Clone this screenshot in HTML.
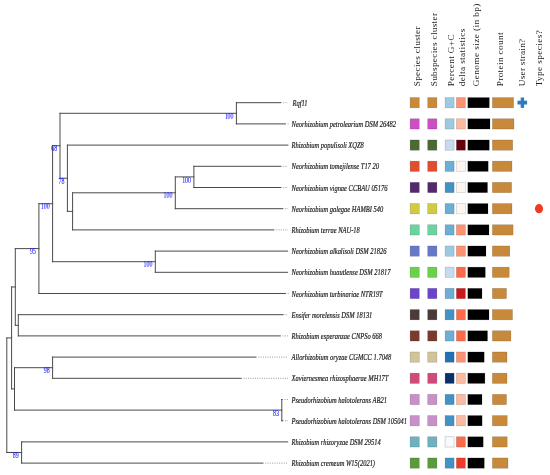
<!DOCTYPE html>
<html><head><meta charset="utf-8"><style>
html,body{margin:0;padding:0;background:#fff;}
svg{display:block;will-change:transform;}
</style></head><body>
<svg width="550" height="475" viewBox="0 0 550 475">
<rect width="550" height="475" fill="#fff"/>
<g stroke="#4a4a4a" stroke-width="1" stroke-linecap="square" fill="none"><line x1="236.4" y1="102.7" x2="280.9" y2="102.7"/><line x1="236.4" y1="123.9" x2="285.4" y2="123.9"/><line x1="236.4" y1="102.7" x2="236.4" y2="123.9"/><line x1="60" y1="113.3" x2="236.4" y2="113.3"/><line x1="67.4" y1="145.1" x2="287.9" y2="145.1"/><line x1="193.9" y1="166.3" x2="280.9" y2="166.3"/><line x1="193.9" y1="187.5" x2="280.9" y2="187.5"/><line x1="193.9" y1="166.3" x2="193.9" y2="187.5"/><line x1="175.3" y1="176.9" x2="193.9" y2="176.9"/><line x1="175.3" y1="208.7" x2="282.9" y2="208.7"/><line x1="175.3" y1="176.9" x2="175.3" y2="208.7"/><line x1="72.6" y1="192.8" x2="175.3" y2="192.8"/><line x1="72.6" y1="229.9" x2="273.9" y2="229.9"/><line x1="72.6" y1="192.8" x2="72.6" y2="229.9"/><line x1="67.4" y1="211.35" x2="72.6" y2="211.35"/><line x1="67.4" y1="145.1" x2="67.4" y2="211.35"/><line x1="60" y1="178.22" x2="67.4" y2="178.22"/><line x1="60" y1="113.3" x2="60" y2="178.22"/><line x1="52.6" y1="145.76" x2="60" y2="145.76"/><line x1="155.3" y1="251.1" x2="287.6" y2="251.1"/><line x1="155.3" y1="272.3" x2="287.6" y2="272.3"/><line x1="155.3" y1="251.1" x2="155.3" y2="272.3"/><line x1="52.6" y1="261.7" x2="155.3" y2="261.7"/><line x1="52.6" y1="145.76" x2="52.6" y2="261.7"/><line x1="38.9" y1="203.73" x2="52.6" y2="203.73"/><line x1="38.9" y1="293.5" x2="285.4" y2="293.5"/><line x1="38.9" y1="203.73" x2="38.9" y2="293.5"/><line x1="15.3" y1="248.62" x2="38.9" y2="248.62"/><line x1="18.3" y1="314.7" x2="283.2" y2="314.7"/><line x1="18.3" y1="335.9" x2="280.3" y2="335.9"/><line x1="18.3" y1="314.7" x2="18.3" y2="335.9"/><line x1="15.3" y1="325.3" x2="18.3" y2="325.3"/><line x1="15.3" y1="248.62" x2="15.3" y2="325.3"/><line x1="11.6" y1="286.96" x2="15.3" y2="286.96"/><line x1="52.6" y1="357.1" x2="256" y2="357.1"/><line x1="52.6" y1="378.3" x2="241.2" y2="378.3"/><line x1="52.6" y1="357.1" x2="52.6" y2="378.3"/><line x1="14.5" y1="367.7" x2="52.6" y2="367.7"/><line x1="281.8" y1="399.5" x2="282.3" y2="399.5"/><line x1="281.8" y1="420.7" x2="282.8" y2="420.7"/><line x1="281.8" y1="399.5" x2="281.8" y2="420.7"/><line x1="14.5" y1="410.1" x2="281.8" y2="410.1"/><line x1="14.5" y1="367.7" x2="14.5" y2="410.1"/><line x1="11.6" y1="388.9" x2="14.5" y2="388.9"/><line x1="11.6" y1="286.96" x2="11.6" y2="388.9"/><line x1="6.8" y1="337.93" x2="11.6" y2="337.93"/><line x1="21.6" y1="441.9" x2="287.7" y2="441.9"/><line x1="21.6" y1="463.1" x2="263" y2="463.1"/><line x1="21.6" y1="441.9" x2="21.6" y2="463.1"/><line x1="6.8" y1="452.5" x2="21.6" y2="452.5"/><line x1="6.8" y1="337.93" x2="6.8" y2="452.5"/></g>
<g stroke="#999" stroke-width="1" stroke-dasharray="1 1.3"><line x1="283.2" y1="102.7" x2="288" y2="102.7"/><line x1="287.7" y1="123.9" x2="288.6" y2="123.9"/><line x1="283.2" y1="166.3" x2="288" y2="166.3"/><line x1="283.2" y1="187.5" x2="288" y2="187.5"/><line x1="285.2" y1="208.7" x2="288" y2="208.7"/><line x1="276.2" y1="229.9" x2="288" y2="229.9"/><line x1="287.7" y1="293.5" x2="288.6" y2="293.5"/><line x1="285.5" y1="314.7" x2="288" y2="314.7"/><line x1="282.6" y1="335.9" x2="288" y2="335.9"/><line x1="258.3" y1="357.1" x2="288" y2="357.1"/><line x1="243.5" y1="378.3" x2="288" y2="378.3"/><line x1="284.6" y1="399.5" x2="288" y2="399.5"/><line x1="285.1" y1="420.7" x2="288" y2="420.7"/><line x1="265.3" y1="463.1" x2="288" y2="463.1"/></g>
<g style="font-family:Liberation Serif,serif" font-size="8.7" fill="#1a1aff" stroke="#1a1aff" stroke-width="0.12"><text transform="translate(233.5,118.9) scale(0.68,1)" text-anchor="end">100</text><text transform="translate(191,182.5) scale(0.68,1)" text-anchor="end">100</text><text transform="translate(172.4,198.4) scale(0.68,1)" text-anchor="end">100</text><text transform="translate(64.5,183.82) scale(0.68,1)" text-anchor="end">78</text><text transform="translate(57.1,151.36) scale(0.68,1)" text-anchor="end">68</text><text transform="translate(152.4,267.3) scale(0.68,1)" text-anchor="end">100</text><text transform="translate(49.7,209.33) scale(0.68,1)" text-anchor="end">100</text><text transform="translate(36,254.22) scale(0.68,1)" text-anchor="end">95</text><text transform="translate(49.7,373.3) scale(0.68,1)" text-anchor="end">98</text><text transform="translate(278.9,415.7) scale(0.68,1)" text-anchor="end">83</text><text transform="translate(18.7,458.1) scale(0.68,1)" text-anchor="end">89</text></g>
<g style="font-family:Liberation Serif,serif" font-style="italic" font-size="8.8" fill="#1a1a1a" stroke="#1a1a1a" stroke-width="0.2"><text transform="translate(292.5,105.8) scale(0.735,1)">Rqf11</text><text transform="translate(291.6,127) scale(0.735,1)">Neorhizobium petrolearium DSM 26482</text><text transform="translate(291.6,148.2) scale(0.735,1)">Rhizobium populisoli XQZ8</text><text transform="translate(291.6,169.4) scale(0.735,1)">Neorhizobium tomejilense T17 20</text><text transform="translate(291.6,190.6) scale(0.735,1)">Neorhizobium vignae CCBAU 05176</text><text transform="translate(291.6,211.8) scale(0.735,1)">Neorhizobium galegae HAMBI 540</text><text transform="translate(291.6,233) scale(0.735,1)">Rhizobium terrae NAU-18</text><text transform="translate(291.6,254.2) scale(0.735,1)">Neorhizobium alkalisoli DSM 21826</text><text transform="translate(291.6,275.4) scale(0.735,1)">Neorhizobium huautlense DSM 21817</text><text transform="translate(291.6,296.6) scale(0.735,1)">Neorhizobium turbinariae NTR19T</text><text transform="translate(291.6,317.8) scale(0.735,1)">Ensifer morelensis DSM 18131</text><text transform="translate(291.6,339) scale(0.735,1)">Rhizobium esperanzae CNPSo 668</text><text transform="translate(291.6,360.2) scale(0.735,1)">Allorhizobium oryzae CGMCC 1.7048</text><text transform="translate(291.6,381.4) scale(0.735,1)">Xaviernesmea rhizosphaerae MH17T</text><text transform="translate(291.6,402.6) scale(0.735,1)">Pseudorhizobium halotolerans AB21</text><text transform="translate(291.6,423.8) scale(0.735,1)">Pseudorhizobium halotolerans DSM 105041</text><text transform="translate(291.6,445) scale(0.735,1)">Rhizobium rhizoryzae DSM 29514</text><text transform="translate(291.6,466.2) scale(0.735,1)">Rhizobium cremeum W15(2021)</text></g>
<rect x="410.1" y="97.55" width="9.2" height="10.3" fill="#c8893a" stroke="#000" stroke-opacity="0.22" stroke-width="0.6"/><rect x="427.7" y="97.55" width="9.2" height="10.3" fill="#c8893a" stroke="#000" stroke-opacity="0.22" stroke-width="0.6"/><rect x="445.1" y="97.55" width="9" height="10.3" fill="#9ecae1" stroke="#000" stroke-opacity="0.22" stroke-width="0.6"/><rect x="456.4" y="97.55" width="9" height="10.3" fill="#fc9272" stroke="#000" stroke-opacity="0.22" stroke-width="0.6"/><rect x="467.8" y="97.55" width="21.5" height="10.3" fill="#000" stroke="#000" stroke-opacity="0.22" stroke-width="0.6"/><rect x="492.4" y="97.55" width="21.2" height="10.3" fill="#c8893a" stroke="#000" stroke-opacity="0.22" stroke-width="0.6"/><rect x="410.1" y="118.75" width="9.2" height="10.3" fill="#cc4fc4" stroke="#000" stroke-opacity="0.22" stroke-width="0.6"/><rect x="427.7" y="118.75" width="9.2" height="10.3" fill="#cc4fc4" stroke="#000" stroke-opacity="0.22" stroke-width="0.6"/><rect x="445.1" y="118.75" width="9" height="10.3" fill="#9ecae1" stroke="#000" stroke-opacity="0.22" stroke-width="0.6"/><rect x="456.4" y="118.75" width="9" height="10.3" fill="#fcbba1" stroke="#000" stroke-opacity="0.22" stroke-width="0.6"/><rect x="467.8" y="118.75" width="22.2" height="10.3" fill="#000" stroke="#000" stroke-opacity="0.22" stroke-width="0.6"/><rect x="492.4" y="118.75" width="21.6" height="10.3" fill="#c8893a" stroke="#000" stroke-opacity="0.22" stroke-width="0.6"/><rect x="410.1" y="139.95" width="9.2" height="10.3" fill="#4a6a32" stroke="#000" stroke-opacity="0.22" stroke-width="0.6"/><rect x="427.7" y="139.95" width="9.2" height="10.3" fill="#4a6a32" stroke="#000" stroke-opacity="0.22" stroke-width="0.6"/><rect x="445.1" y="139.95" width="9" height="10.3" fill="#c6dbef" stroke="#000" stroke-opacity="0.22" stroke-width="0.6"/><rect x="456.4" y="139.95" width="9" height="10.3" fill="#67000d" stroke="#000" stroke-opacity="0.22" stroke-width="0.6"/><rect x="467.8" y="139.95" width="21.5" height="10.3" fill="#000" stroke="#000" stroke-opacity="0.22" stroke-width="0.6"/><rect x="492.4" y="139.95" width="20.3" height="10.3" fill="#c8893a" stroke="#000" stroke-opacity="0.22" stroke-width="0.6"/><rect x="410.1" y="161.15" width="9.2" height="10.3" fill="#e04e2e" stroke="#000" stroke-opacity="0.22" stroke-width="0.6"/><rect x="427.7" y="161.15" width="9.2" height="10.3" fill="#e04e2e" stroke="#000" stroke-opacity="0.22" stroke-width="0.6"/><rect x="445.1" y="161.15" width="9" height="10.3" fill="#6baed6" stroke="#000" stroke-opacity="0.22" stroke-width="0.6"/><rect x="456.4" y="161.15" width="9" height="10.3" fill="#fff5f0" stroke="#ccc" stroke-width="0.6"/><rect x="467.8" y="161.15" width="20.4" height="10.3" fill="#000" stroke="#000" stroke-opacity="0.22" stroke-width="0.6"/><rect x="492.4" y="161.15" width="19.6" height="10.3" fill="#c8893a" stroke="#000" stroke-opacity="0.22" stroke-width="0.6"/><rect x="410.1" y="182.35" width="9.2" height="10.3" fill="#55286e" stroke="#000" stroke-opacity="0.22" stroke-width="0.6"/><rect x="427.7" y="182.35" width="9.2" height="10.3" fill="#55286e" stroke="#000" stroke-opacity="0.22" stroke-width="0.6"/><rect x="445.1" y="182.35" width="9" height="10.3" fill="#4292c6" stroke="#000" stroke-opacity="0.22" stroke-width="0.6"/><rect x="456.4" y="182.35" width="9" height="10.3" fill="#fff5f0" stroke="#ccc" stroke-width="0.6"/><rect x="467.8" y="182.35" width="19.7" height="10.3" fill="#000" stroke="#000" stroke-opacity="0.22" stroke-width="0.6"/><rect x="492.4" y="182.35" width="19.2" height="10.3" fill="#c8893a" stroke="#000" stroke-opacity="0.22" stroke-width="0.6"/><rect x="410.1" y="203.55" width="9.2" height="10.3" fill="#cfcb45" stroke="#000" stroke-opacity="0.22" stroke-width="0.6"/><rect x="427.7" y="203.55" width="9.2" height="10.3" fill="#cfcb45" stroke="#000" stroke-opacity="0.22" stroke-width="0.6"/><rect x="445.1" y="203.55" width="9" height="10.3" fill="#6baed6" stroke="#000" stroke-opacity="0.22" stroke-width="0.6"/><rect x="456.4" y="203.55" width="9" height="10.3" fill="#fff5f0" stroke="#ccc" stroke-width="0.6"/><rect x="467.8" y="203.55" width="20.2" height="10.3" fill="#000" stroke="#000" stroke-opacity="0.22" stroke-width="0.6"/><rect x="492.4" y="203.55" width="19.6" height="10.3" fill="#c8893a" stroke="#000" stroke-opacity="0.22" stroke-width="0.6"/><rect x="410.1" y="224.75" width="9.2" height="10.3" fill="#6dd3a0" stroke="#000" stroke-opacity="0.22" stroke-width="0.6"/><rect x="427.7" y="224.75" width="9.2" height="10.3" fill="#6dd3a0" stroke="#000" stroke-opacity="0.22" stroke-width="0.6"/><rect x="445.1" y="224.75" width="9" height="10.3" fill="#6baed6" stroke="#000" stroke-opacity="0.22" stroke-width="0.6"/><rect x="456.4" y="224.75" width="9" height="10.3" fill="#fc9272" stroke="#000" stroke-opacity="0.22" stroke-width="0.6"/><rect x="467.8" y="224.75" width="21.2" height="10.3" fill="#000" stroke="#000" stroke-opacity="0.22" stroke-width="0.6"/><rect x="492.4" y="224.75" width="20.7" height="10.3" fill="#c8893a" stroke="#000" stroke-opacity="0.22" stroke-width="0.6"/><rect x="410.1" y="245.95" width="9.2" height="10.3" fill="#6878c8" stroke="#000" stroke-opacity="0.22" stroke-width="0.6"/><rect x="427.7" y="245.95" width="9.2" height="10.3" fill="#6878c8" stroke="#000" stroke-opacity="0.22" stroke-width="0.6"/><rect x="445.1" y="245.95" width="9" height="10.3" fill="#9ecae1" stroke="#000" stroke-opacity="0.22" stroke-width="0.6"/><rect x="456.4" y="245.95" width="9" height="10.3" fill="#fc9272" stroke="#000" stroke-opacity="0.22" stroke-width="0.6"/><rect x="467.8" y="245.95" width="18.2" height="10.3" fill="#000" stroke="#000" stroke-opacity="0.22" stroke-width="0.6"/><rect x="492.4" y="245.95" width="17.4" height="10.3" fill="#c8893a" stroke="#000" stroke-opacity="0.22" stroke-width="0.6"/><rect x="410.1" y="267.15" width="9.2" height="10.3" fill="#6bd04a" stroke="#000" stroke-opacity="0.22" stroke-width="0.6"/><rect x="427.7" y="267.15" width="9.2" height="10.3" fill="#6bd04a" stroke="#000" stroke-opacity="0.22" stroke-width="0.6"/><rect x="445.1" y="267.15" width="9" height="10.3" fill="#c6dbef" stroke="#000" stroke-opacity="0.22" stroke-width="0.6"/><rect x="456.4" y="267.15" width="9" height="10.3" fill="#fb6a4a" stroke="#000" stroke-opacity="0.22" stroke-width="0.6"/><rect x="467.8" y="267.15" width="17.5" height="10.3" fill="#000" stroke="#000" stroke-opacity="0.22" stroke-width="0.6"/><rect x="492.4" y="267.15" width="16.8" height="10.3" fill="#c8893a" stroke="#000" stroke-opacity="0.22" stroke-width="0.6"/><rect x="410.1" y="288.35" width="9.2" height="10.3" fill="#6a45cc" stroke="#000" stroke-opacity="0.22" stroke-width="0.6"/><rect x="427.7" y="288.35" width="9.2" height="10.3" fill="#6a45cc" stroke="#000" stroke-opacity="0.22" stroke-width="0.6"/><rect x="445.1" y="288.35" width="9" height="10.3" fill="#6baed6" stroke="#000" stroke-opacity="0.22" stroke-width="0.6"/><rect x="456.4" y="288.35" width="9" height="10.3" fill="#cb181d" stroke="#000" stroke-opacity="0.22" stroke-width="0.6"/><rect x="467.8" y="288.35" width="14.2" height="10.3" fill="#000" stroke="#000" stroke-opacity="0.22" stroke-width="0.6"/><rect x="492.4" y="288.35" width="14.1" height="10.3" fill="#c8893a" stroke="#000" stroke-opacity="0.22" stroke-width="0.6"/><rect x="410.1" y="309.55" width="9.2" height="10.3" fill="#4a3a3a" stroke="#000" stroke-opacity="0.22" stroke-width="0.6"/><rect x="427.7" y="309.55" width="9.2" height="10.3" fill="#4a3a3a" stroke="#000" stroke-opacity="0.22" stroke-width="0.6"/><rect x="445.1" y="309.55" width="9" height="10.3" fill="#4292c6" stroke="#000" stroke-opacity="0.22" stroke-width="0.6"/><rect x="456.4" y="309.55" width="9" height="10.3" fill="#fb6a4a" stroke="#000" stroke-opacity="0.22" stroke-width="0.6"/><rect x="467.8" y="309.55" width="21.2" height="10.3" fill="#000" stroke="#000" stroke-opacity="0.22" stroke-width="0.6"/><rect x="492.4" y="309.55" width="20.1" height="10.3" fill="#c8893a" stroke="#000" stroke-opacity="0.22" stroke-width="0.6"/><rect x="410.1" y="330.75" width="9.2" height="10.3" fill="#7a3a30" stroke="#000" stroke-opacity="0.22" stroke-width="0.6"/><rect x="427.7" y="330.75" width="9.2" height="10.3" fill="#7a3a30" stroke="#000" stroke-opacity="0.22" stroke-width="0.6"/><rect x="445.1" y="330.75" width="9" height="10.3" fill="#6baed6" stroke="#000" stroke-opacity="0.22" stroke-width="0.6"/><rect x="456.4" y="330.75" width="9" height="10.3" fill="#fb6a4a" stroke="#000" stroke-opacity="0.22" stroke-width="0.6"/><rect x="467.8" y="330.75" width="19.7" height="10.3" fill="#000" stroke="#000" stroke-opacity="0.22" stroke-width="0.6"/><rect x="492.4" y="330.75" width="18.5" height="10.3" fill="#c8893a" stroke="#000" stroke-opacity="0.22" stroke-width="0.6"/><rect x="410.1" y="351.95" width="9.2" height="10.3" fill="#d0c49a" stroke="#000" stroke-opacity="0.22" stroke-width="0.6"/><rect x="427.7" y="351.95" width="9.2" height="10.3" fill="#d0c49a" stroke="#000" stroke-opacity="0.22" stroke-width="0.6"/><rect x="445.1" y="351.95" width="9" height="10.3" fill="#2171b5" stroke="#000" stroke-opacity="0.22" stroke-width="0.6"/><rect x="456.4" y="351.95" width="9" height="10.3" fill="#fc9272" stroke="#000" stroke-opacity="0.22" stroke-width="0.6"/><rect x="467.8" y="351.95" width="16.4" height="10.3" fill="#000" stroke="#000" stroke-opacity="0.22" stroke-width="0.6"/><rect x="492.4" y="351.95" width="14.6" height="10.3" fill="#c8893a" stroke="#000" stroke-opacity="0.22" stroke-width="0.6"/><rect x="410.1" y="373.15" width="9.2" height="10.3" fill="#d04a7a" stroke="#000" stroke-opacity="0.22" stroke-width="0.6"/><rect x="427.7" y="373.15" width="9.2" height="10.3" fill="#d04a7a" stroke="#000" stroke-opacity="0.22" stroke-width="0.6"/><rect x="445.1" y="373.15" width="9" height="10.3" fill="#08306b" stroke="#000" stroke-opacity="0.22" stroke-width="0.6"/><rect x="456.4" y="373.15" width="9" height="10.3" fill="#fcbba1" stroke="#000" stroke-opacity="0.22" stroke-width="0.6"/><rect x="467.8" y="373.15" width="17.1" height="10.3" fill="#000" stroke="#000" stroke-opacity="0.22" stroke-width="0.6"/><rect x="492.4" y="373.15" width="14.6" height="10.3" fill="#c8893a" stroke="#000" stroke-opacity="0.22" stroke-width="0.6"/><rect x="410.1" y="394.35" width="9.2" height="10.3" fill="#c890c8" stroke="#000" stroke-opacity="0.22" stroke-width="0.6"/><rect x="427.7" y="394.35" width="9.2" height="10.3" fill="#c890c8" stroke="#000" stroke-opacity="0.22" stroke-width="0.6"/><rect x="445.1" y="394.35" width="9" height="10.3" fill="#4292c6" stroke="#000" stroke-opacity="0.22" stroke-width="0.6"/><rect x="456.4" y="394.35" width="9" height="10.3" fill="#fcbba1" stroke="#000" stroke-opacity="0.22" stroke-width="0.6"/><rect x="467.8" y="394.35" width="14.2" height="10.3" fill="#000" stroke="#000" stroke-opacity="0.22" stroke-width="0.6"/><rect x="492.4" y="394.35" width="14.1" height="10.3" fill="#c8893a" stroke="#000" stroke-opacity="0.22" stroke-width="0.6"/><rect x="410.1" y="415.55" width="9.2" height="10.3" fill="#c890c8" stroke="#000" stroke-opacity="0.22" stroke-width="0.6"/><rect x="427.7" y="415.55" width="9.2" height="10.3" fill="#c890c8" stroke="#000" stroke-opacity="0.22" stroke-width="0.6"/><rect x="445.1" y="415.55" width="9" height="10.3" fill="#4292c6" stroke="#000" stroke-opacity="0.22" stroke-width="0.6"/><rect x="456.4" y="415.55" width="9" height="10.3" fill="#fcbba1" stroke="#000" stroke-opacity="0.22" stroke-width="0.6"/><rect x="467.8" y="415.55" width="14.3" height="10.3" fill="#000" stroke="#000" stroke-opacity="0.22" stroke-width="0.6"/><rect x="492.4" y="415.55" width="14.8" height="10.3" fill="#c8893a" stroke="#000" stroke-opacity="0.22" stroke-width="0.6"/><rect x="410.1" y="436.75" width="9.2" height="10.3" fill="#70b0c0" stroke="#000" stroke-opacity="0.22" stroke-width="0.6"/><rect x="427.7" y="436.75" width="9.2" height="10.3" fill="#70b0c0" stroke="#000" stroke-opacity="0.22" stroke-width="0.6"/><rect x="445.1" y="436.75" width="9" height="10.3" fill="#f7fbff" stroke="#bbb" stroke-width="0.6"/><rect x="456.4" y="436.75" width="9" height="10.3" fill="#fb6a4a" stroke="#000" stroke-opacity="0.22" stroke-width="0.6"/><rect x="467.8" y="436.75" width="15.4" height="10.3" fill="#000" stroke="#000" stroke-opacity="0.22" stroke-width="0.6"/><rect x="492.4" y="436.75" width="14.8" height="10.3" fill="#c8893a" stroke="#000" stroke-opacity="0.22" stroke-width="0.6"/><rect x="410.1" y="457.95" width="9.2" height="10.3" fill="#5a9a3a" stroke="#000" stroke-opacity="0.22" stroke-width="0.6"/><rect x="427.7" y="457.95" width="9.2" height="10.3" fill="#5a9a3a" stroke="#000" stroke-opacity="0.22" stroke-width="0.6"/><rect x="445.1" y="457.95" width="9" height="10.3" fill="#4292c6" stroke="#000" stroke-opacity="0.22" stroke-width="0.6"/><rect x="456.4" y="457.95" width="9" height="10.3" fill="#ef3b2c" stroke="#000" stroke-opacity="0.22" stroke-width="0.6"/><rect x="467.8" y="457.95" width="16.5" height="10.3" fill="#000" stroke="#000" stroke-opacity="0.22" stroke-width="0.6"/><rect x="492.4" y="457.95" width="15.6" height="10.3" fill="#c8893a" stroke="#000" stroke-opacity="0.22" stroke-width="0.6"/>
<g fill="#2f7bc0"><rect x="517.5" y="100.7" width="9.6" height="3.8"/><rect x="520.7" y="97.5" width="3.4" height="10.4"/></g>
<ellipse cx="539" cy="208.7" rx="4.05" ry="4.6" fill="#ee3b24"/>
<g style="font-family:Liberation Serif,serif" font-size="9.2" fill="#222"><text transform="translate(419.6,86.3) rotate(-90)" textLength="59.8">Species cluster</text><text transform="translate(437,86.3) rotate(-90)" textLength="73.3">Subspecies cluster</text><text transform="translate(453.8,86.3) rotate(-90)" textLength="51.9">Percent G+C</text><text transform="translate(465.2,86.3) rotate(-90)" textLength="57.6">delta statistics</text><text transform="translate(479.4,86.3) rotate(-90)" textLength="82.6">Genome size (in bp)</text><text transform="translate(503.4,86.3) rotate(-90)" textLength="53.8">Protein count</text><text transform="translate(524.9,86.3) rotate(-90)" textLength="47.5">User strain?</text><text transform="translate(542,86.3) rotate(-90)" textLength="56.2">Type species?</text></g>
</svg>
</body></html>
